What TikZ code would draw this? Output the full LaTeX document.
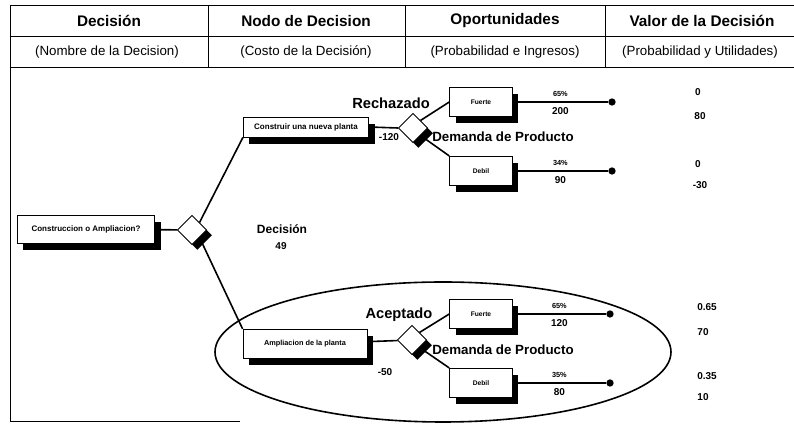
\documentclass[tikz,border=0pt]{standalone}
\usepackage{fontspec}
\setmainfont{Liberation Sans}
\usetikzlibrary{positioning,calc,shapes.geometric,shadows}
\tikzset{
  rule/.style={line width=0.6pt},
  conn/.style={line width=1.2pt},
  head/.style={font=\fontsize{11.5}{13}\selectfont\bfseries},
  subhead/.style={font=\fontsize{10}{11}\selectfont},
  dbox/.style={draw,fill=white,line width=0.6pt,inner sep=1pt,
    drop shadow={shadow xshift=4.5pt,shadow yshift=-5pt,fill=black,opacity=1},
    font=\fontsize{6}{7}\selectfont\bfseries},
  obox/.style={dbox,minimum width=47pt,minimum height=22pt,
    font=\fontsize{5}{6}\selectfont\bfseries},
  dnode/.style={draw,fill=white,shape=diamond,inner sep=0pt,
    minimum width=22pt,minimum height=22pt,line width=0.6pt,
    drop shadow={shadow xshift=4pt,shadow yshift=-4pt,fill=black,opacity=1}},
  endpt/.style={shape=circle,fill=black,inner sep=0pt,minimum width=5.5pt},
  lbl/.style={font=\fontsize{11}{12}\selectfont\bfseries},
  dem/.style={font=\fontsize{10}{11}\selectfont\bfseries},
  num/.style={font=\fontsize{7.5}{8}\selectfont\bfseries},
  pct/.style={font=\fontsize{5.5}{6}\selectfont\bfseries}
}

\begin{document}
\begin{tikzpicture}[x=0.75pt,y=-0.75pt]
  \useasboundingbox (0,0) rectangle (794,427);
  % table head
  \draw[rule] (10,5) -- (794,5) (10,36) -- (794,36) (10,67) -- (794,67);
  \draw[rule] (208,5) -- (208,67) (405,5) -- (405,67) (605,5) -- (605,67);
  \draw[rule] (10,5) -- (10,421) -- (240,421);
  \node (h1) [head] at (109,21) {Decisión};
  \node (h2) [head] at (306,21) {Nodo de Decision};
  \node (h3) [head] at (505,21) {Oportunidades};
  \node (h4) [head] at (702,21) {Valor de la Decisión};
  \node (s1) [subhead] at (107,52) {(Nombre de la Decision)};
  \node (s2) [subhead] at (306,52) {(Costo de la Decisión)};
  \node (s3) [subhead] at (505,52) {(Probabilidad e Ingresos)};
  \node (s4) [subhead] at (700,52) {(Probabilidad y Utilidades)};

  % tree
  \node (root) [dbox,minimum width=103pt,minimum height=21pt] at (86,229)
    {Construccion o Ampliacion?};
  \node (rd) [dnode] at (192,230) {};
  \node (cn) [dbox,minimum width=94pt,minimum height=15pt] at (306,127)
    {Construir una nueva planta};
  \node (am) [dbox,minimum width=93pt,minimum height=22pt,
    font=\fontsize{5.5}{6}\selectfont\bfseries] at (305,344)
    {Ampliacion de la planta};
  \node (d1) [dnode] at (413,128) {};
  \node (d2) [dnode] at (412,340) {};
  \node (dec) [font=\fontsize{9}{10}\selectfont\bfseries] at (282,229) {Decisión};
  \node (dv) [num] at (281,246) {49};
  \node (c1) [num] at (389,137) {-120};
  \node (c2) [num] at (385,372) {-50};
  \node (rz) [lbl] at (391,103) {Rechazado};
  \node (ac) [lbl] at (399,315) {Aceptado};
  \node (dm1) [dem] at (503,137) {Demanda de Producto};
  \node (dm2) [dem] at (503,350) {Demanda de Producto};

  \node (fu1) [obox] at (481,102) {Fuerte};
  \node (de1) [obox] at (481,171) {Debil};
  \node (fu2) [obox] at (481,314) {Fuerte};
  \node (de2) [obox] at (481,383) {Debil};
  \node (t1) [endpt] at (612,102) {};
  \node (t2) [endpt] at (612,171) {};
  \node (t3) [endpt] at (610,314) {};
  \node (t4) [endpt] at (610,383) {};

  \draw[conn] (root) -- (rd);
  \draw[conn] (rd.north east) -- (cn.south west);
  \draw[conn] (rd.south east) -- (am.north west);
  \draw[conn] (cn.east) -- (d1.west);
  \draw[conn] (am) -- (d2);
  \draw[conn] (d1.north east) -- (fu1.west);
  \draw[conn] (d1.south east) -- (de1.north west);
  \draw[conn] (d2.north east) -- (fu2.west);
  \draw[conn] (d2.south east) -- (de2.north west);
  \draw[conn] (fu1) -- node[pct,above] (p1) {65\%} node[num,below] (i1) {200} (t1);
  \draw[conn] (de1) -- node[pct,above] (p2) {34\%} node[num,below] (i2) {90} (t2);
  \draw[conn] (fu2) -- node[pct,above] (p3) {65\%} node[num,below] (i3) {120} (t3);
  \draw[conn] (de2) -- node[pct,above] (p4) {35\%} node[num,below] (i4) {80} (t4);

  % values
  \node (v1) [num] at (698,92) {0};
  \node (v2) [num] at (700,116) {80};
  \node (v3) [num] at (698,164) {0};
  \node (v4) [num] at (700,185) {-30};
  \node (v5) [num] at (707,307) {0.65};
  \node (v6) [num] at (703,332) {70};
  \node (v7) [num] at (707,376) {0.35};
  \node (v8) [num] at (703,397) {10};

  \draw[conn] (443,352) ellipse [x radius=228,y radius=70];
\end{tikzpicture}
\end{document}
